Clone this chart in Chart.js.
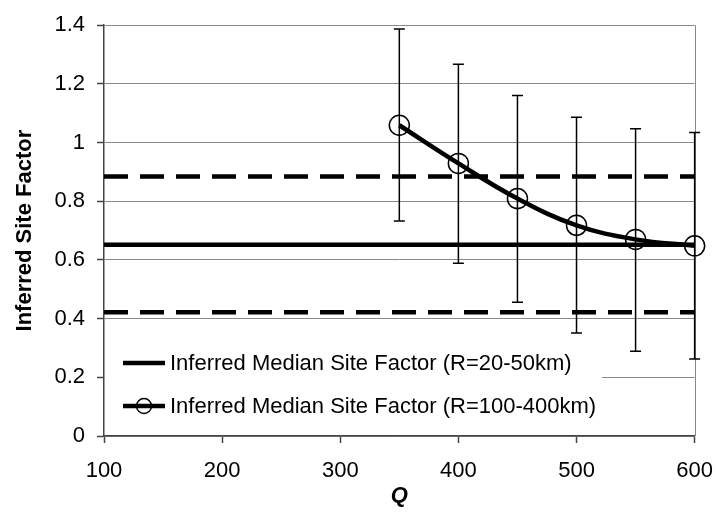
<!DOCTYPE html>
<html>
<head>
<meta charset="utf-8">
<script src="https://cdn.jsdelivr.net/npm/chart.js@4.4.1/dist/chart.umd.min.js"></script>
<style>
  body { margin: 0; background: #fff; }
  #wrap { width: 728px; height: 513px; }
</style>
</head>
<body>
<div id="wrap"><canvas id="siteChart" width="728" height="513"></canvas></div>
<script>
// data
const qValues = [350, 400, 450, 500, 550, 600];
const farMedian = [1.059, 0.929, 0.809, 0.718, 0.670, 0.648];
const farHigh = [1.387, 1.267, 1.160, 1.086, 1.047, 1.034];
const farLow = [0.733, 0.589, 0.456, 0.351, 0.289, 0.262];
const qRange = [100, 600];
const nearMedian = 0.652;
const nearUpper = 0.884;
const nearLower = 0.422;
const legendLabels = [
  'Inferred Median Site Factor (R=20-50km)',
  'Inferred Median Site Factor (R=100-400km)'
];

const FONT = '"Liberation Sans", Arial, sans-serif';

const flatLine = (v) => qRange.map(q => ({ x: q, y: v }));

// error bars + plot frame
const errorBars = {
  id: 'errorBars',
  beforeDatasetsDraw(chart) {
    const { ctx, chartArea, scales: { x, y } } = chart;
    ctx.save();
    ctx.strokeStyle = '#888';
    ctx.lineWidth = 1;
    ctx.beginPath();
    ctx.moveTo(Math.round(chartArea.right) + 0.5, chartArea.top);
    ctx.lineTo(Math.round(chartArea.right) + 0.5, chartArea.bottom);
    ctx.stroke();

    ctx.strokeStyle = '#000';
    ctx.lineWidth = 1.5;
    qValues.forEach((q, i) => {
      const px = x.getPixelForValue(q);
      const top = y.getPixelForValue(farHigh[i]);
      const bot = y.getPixelForValue(farLow[i]);
      ctx.beginPath();
      ctx.moveTo(px, top); ctx.lineTo(px, bot);
      ctx.moveTo(px - 5.5, top); ctx.lineTo(px + 5.5, top);
      ctx.moveTo(px - 5.5, bot); ctx.lineTo(px + 5.5, bot);
      ctx.stroke();
    });
    ctx.restore();
  }
};

// legend box sitting inside the plot
const insideLegend = {
  id: 'insideLegend',
  afterDraw(chart) {
    const { ctx, chartArea } = chart;
    ctx.save();
    ctx.fillStyle = '#fff';
    ctx.fillRect(chartArea.left + 1, 336, 602 - chartArea.left - 1, 94);

    const rows = [363, 406];
    ctx.font = '22px ' + FONT;
    ctx.textBaseline = 'middle';
    ctx.fillStyle = '#000';
    rows.forEach((ry, i) => {
      ctx.strokeStyle = '#000';
      ctx.lineWidth = 4.5;
      ctx.beginPath();
      ctx.moveTo(123, ry); ctx.lineTo(165, ry);
      ctx.stroke();
      if (i === 1) {
        ctx.lineWidth = 1.5;
        ctx.beginPath();
        ctx.arc(144, ry, 7.5, 0, Math.PI * 2);
        ctx.stroke();
      }
      ctx.fillText(legendLabels[i], 170, ry + 1);
    });
    ctx.restore();
  }
};

new Chart(document.getElementById('siteChart'), {
  type: 'line',
  data: {
    datasets: [
      {
        label: legendLabels[0],
        data: flatLine(nearMedian),
        borderColor: '#000',
        borderWidth: 4.5,
        pointRadius: 0
      },
      {
        label: 'upper',
        data: flatLine(nearUpper),
        borderColor: '#000',
        borderWidth: 4.5,
        borderDash: [24, 12],
        pointRadius: 0
      },
      {
        label: 'lower',
        data: flatLine(nearLower),
        borderColor: '#000',
        borderWidth: 4.5,
        borderDash: [24, 12],
        pointRadius: 0
      },
      {
        label: legendLabels[1],
        data: qValues.map((q, i) => ({ x: q, y: farMedian[i] })),
        borderColor: '#000',
        borderWidth: 4.5,
        tension: 0.4,
        pointRadius: 10,
        pointBorderWidth: 1.5,
        pointBorderColor: '#000',
        pointBackgroundColor: 'rgba(0,0,0,0)',
        clip: false
      }
    ]
  },
  options: {
    responsive: false,
    animation: false,
    events: [],
    layout: { padding: { left: 0, right: 25, top: 16, bottom: 0 } },
    plugins: {
      legend: { display: false },
      tooltip: { enabled: false }
    },
    scales: {
      x: {
        type: 'linear',
        min: 100,
        max: 600,
        afterFit: (s) => { s.height = 77; },
        ticks: { stepSize: 100, color: '#000', padding: 15, font: { family: FONT, size: 22 } },
        grid: { drawOnChartArea: false, tickLength: 7, tickColor: '#444', tickWidth: 1.5 },
        border: { color: '#444', width: 1.5 },
        title: {
          display: true,
          text: 'Q',
          color: '#000',
          padding: { top: 0, bottom: 4 },
          font: { family: FONT, size: 22, weight: 'bold', style: 'italic' }
        }
      },
      y: {
        min: 0,
        max: 1.4,
        afterFit: (s) => { s.width = 104; },
        ticks: {
          stepSize: 0.2,
          color: '#000',
          padding: 12,
          font: { family: FONT, size: 22 },
          callback: (v) => String(Math.round(v * 10) / 10)
        },
        grid: { color: '#888', lineWidth: 1, tickLength: 7, tickColor: '#444', tickWidth: 1.5 },
        border: { color: '#444', width: 1.5 },
        title: {
          display: true,
          text: 'Inferred Site Factor',
          color: '#000',
          padding: { top: 12, bottom: 0 },
          font: { family: FONT, size: 22, weight: 'bold' }
        }
      }
    }
  },
  plugins: [errorBars, insideLegend]
});
</script>
</body>
</html>
